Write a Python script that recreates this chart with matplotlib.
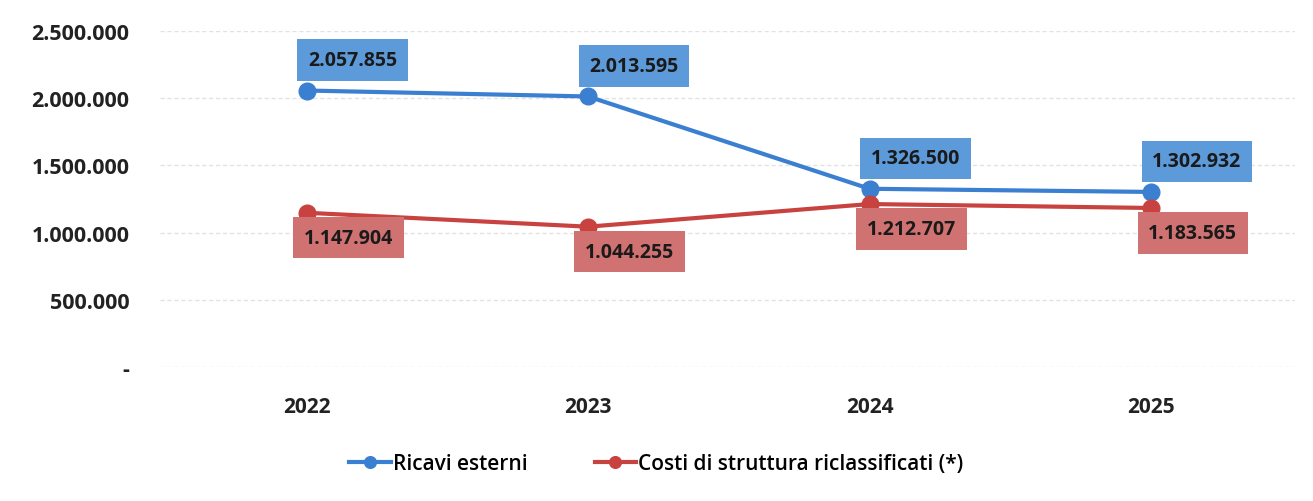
import numpy as np
import matplotlib
matplotlib.use('Agg')
import matplotlib.pyplot as plt

plt.rcParams['font.family'] = ['Open Sans', 'DejaVu Sans']

years = ['2022', '2023', '2024', '2025']
ricavi = [2057855, 2013595, 1326500, 1302932]
costi = [1147904, 1044255, 1212707, 1183565]
y_ticks = [0, 500000, 1000000, 1500000, 2000000, 2500000]

blue = '#3b7fd1'
red = '#c8433f'
blue_box = '#5d9ad9'
red_box = '#d07272'


def fmt(v):
    if v == 0:
        return '-'
    return '{:,}'.format(v).replace(',', '.')


fig = plt.figure(figsize=(13.13, 5.02), dpi=100)
ax = fig.add_axes([0.122, 0.267, 0.864, 0.669])

x = np.arange(len(years))
ax.plot(x, ricavi, color=blue, lw=3, marker='o', ms=12, label='Ricavi esterni', zorder=3)
ax.plot(x, costi, color=red, lw=3, marker='o', ms=12, label='Costi di struttura riclassificati (*)', zorder=3)

# etichette dei valori nei riquadri colorati
for i in range(len(years)):
    ax.annotate(fmt(ricavi[i]), (x[i], ricavi[i]), xytext=(33, 22), textcoords='offset points',
                ha='center', va='center', fontsize=14, fontweight='bold', color='#1a1a1a',
                bbox=dict(boxstyle='square,pad=0.55', fc=blue_box, ec='none'), zorder=4)
    ax.annotate(fmt(costi[i]), (x[i], costi[i]), xytext=(30, -18), textcoords='offset points',
                ha='center', va='center', fontsize=14, fontweight='bold', color='#1a1a1a',
                bbox=dict(boxstyle='square,pad=0.55', fc=red_box, ec='none'), zorder=4)

ax.set_xlim(-0.52, 3.51)
ax.set_ylim(0, 2500000)
ax.set_xticks(x)
ax.set_xticklabels(years, fontsize=15, fontweight='bold', color='#222222')
ax.set_yticks(y_ticks)
ax.set_yticklabels([fmt(v) for v in y_ticks], fontsize=15.5, fontweight='bold', color='#222222')
ax.tick_params(axis='both', length=0)
ax.tick_params(axis='y', pad=22)
ax.tick_params(axis='x', pad=21)
ax.grid(axis='y', color='#e2e2e2', lw=1, ls=(0, (3, 2)))
ax.set_axisbelow(True)
for s in ax.spines.values():
    s.set_visible(False)

fig.legend(loc='center', bbox_to_anchor=(0.5, 0.075), ncol=2, frameon=False,
           prop={'size': 15, 'weight': 600}, markerscale=0.7,
           handlelength=2.0, handletextpad=0.1, columnspacing=3.2)

fig.savefig('out.png', dpi=100, facecolor='white')
